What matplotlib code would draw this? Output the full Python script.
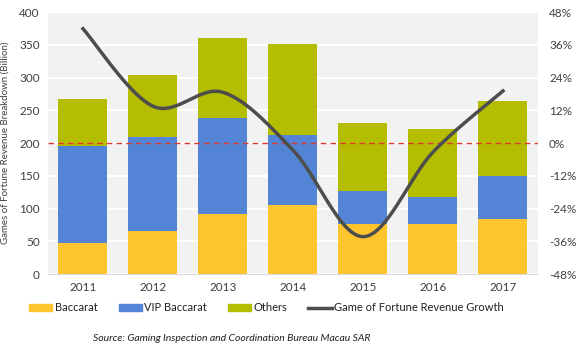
import matplotlib.pyplot as plt
import matplotlib.patches as mpatches
from matplotlib.lines import Line2D
import numpy as np

plt.rcParams['font.family'] = ['Lato', 'DejaVu Sans']

years = ["2011", "2012", "2013", "2014", "2015", "2016", "2017"]
baccarat = [48, 65, 91, 106, 77, 77, 84]
vip_baccarat = [147, 145, 147, 106, 50, 41, 66]
others = [73, 94, 122, 139, 103, 104, 115]
growth = [41.9, 13.5, 18.6, -2.6, -34.3, -3.3, 19.1]

c_bac = "#FFC52F"
c_vip = "#5384D6"
c_oth = "#B5BD00"
c_line = "#4D4D4D"


def smooth(x, y, n=30):
    # excel-style smoothed line (cubic bezier through the points)
    x = np.asarray(x, float)
    y = np.asarray(y, float)
    px, py = [], []
    for i in range(len(x) - 1):
        x0, y0 = (x[i - 1], y[i - 1]) if i > 0 else (x[i], y[i])
        x3, y3 = (x[i + 2], y[i + 2]) if i + 2 < len(x) else (x[i + 1], y[i + 1])
        c1x = x[i] + (x[i + 1] - x0) / 6
        c1y = y[i] + (y[i + 1] - y0) / 6
        c2x = x[i + 1] - (x3 - x[i]) / 6
        c2y = y[i + 1] - (y3 - y[i]) / 6
        t = np.linspace(0, 1, n)
        px.extend((1 - t) ** 3 * x[i] + 3 * (1 - t) ** 2 * t * c1x + 3 * (1 - t) * t ** 2 * c2x + t ** 3 * x[i + 1])
        py.extend((1 - t) ** 3 * y[i] + 3 * (1 - t) ** 2 * t * c1y + 3 * (1 - t) * t ** 2 * c2y + t ** 3 * y[i + 1])
    return px, py


fig = plt.figure(figsize=(5.83, 3.46), dpi=100)
ax = fig.add_axes([0.0823, 0.208, 0.8405, 0.757])
ax.set_facecolor("#F2F2F2")

x = np.arange(len(years))
ax.bar(x, baccarat, 0.7, color=c_bac, zorder=2)
ax.bar(x, vip_baccarat, 0.7, bottom=baccarat, color=c_vip, zorder=2)
bottom2 = [a + b for a, b in zip(baccarat, vip_baccarat)]
ax.bar(x, others, 0.7, bottom=bottom2, color=c_oth, zorder=2)

ax.set_xlim(-0.5, 6.5)
ax.set_ylim(0, 400)
ax.set_yticks(range(0, 401, 50))
ax.set_xticks(x)
ax.set_xticklabels(years)
ax.yaxis.grid(True, color="white", linewidth=1.5, zorder=0)
ax.set_axisbelow(True)
for s in ax.spines.values():
    s.set_visible(False)
ax.spines["bottom"].set_visible(True)
ax.spines["bottom"].set_color("#D9D9D9")
ax.tick_params(length=0, labelsize=8.5, colors="#404040", pad=6)
ax.set_ylabel("Games of Fortune Revenue Breakdown (Billion)", fontsize=7, color="#404040", labelpad=7)

ax2 = ax.twinx()
ax2.set_ylim(-48, 48)
ax2.set_yticks(range(-48, 49, 12))
ax2.set_yticklabels([f"{v}%" for v in range(-48, 49, 12)])
for s in ax2.spines.values():
    s.set_visible(False)
ax2.tick_params(length=0, labelsize=8.5, colors="#404040", pad=8)
ax2.axhline(0, color="#E0392F", linestyle=(0, (4, 3)), linewidth=1, zorder=3)
sx, sy = smooth(x, growth)
ax2.plot(sx, sy, color=c_line, linewidth=2.5, zorder=4)

handles = [
    mpatches.Patch(color=c_bac, label="Baccarat"),
    mpatches.Patch(color=c_vip, label="VIP Baccarat"),
    mpatches.Patch(color=c_oth, label="Others"),
    Line2D([0], [0], color=c_line, linewidth=2.5, label="Game of Fortune Revenue Growth"),
]
fig.legend(handles=handles, loc="center", bbox_to_anchor=(0.457, 0.11), ncol=4, frameon=False,
           fontsize=8, handlelength=2.1, handleheight=0.55, handletextpad=0.2, columnspacing=1.9,
           labelcolor="#202020")

fig.text(0.398, 0.023, "Source: Gaming Inspection and Coordination Bureau Macau SAR",
         ha="center", va="center", fontsize=7.5, style="italic", color="#202020")

plt.savefig("out.png", dpi=100)
plt.close()
